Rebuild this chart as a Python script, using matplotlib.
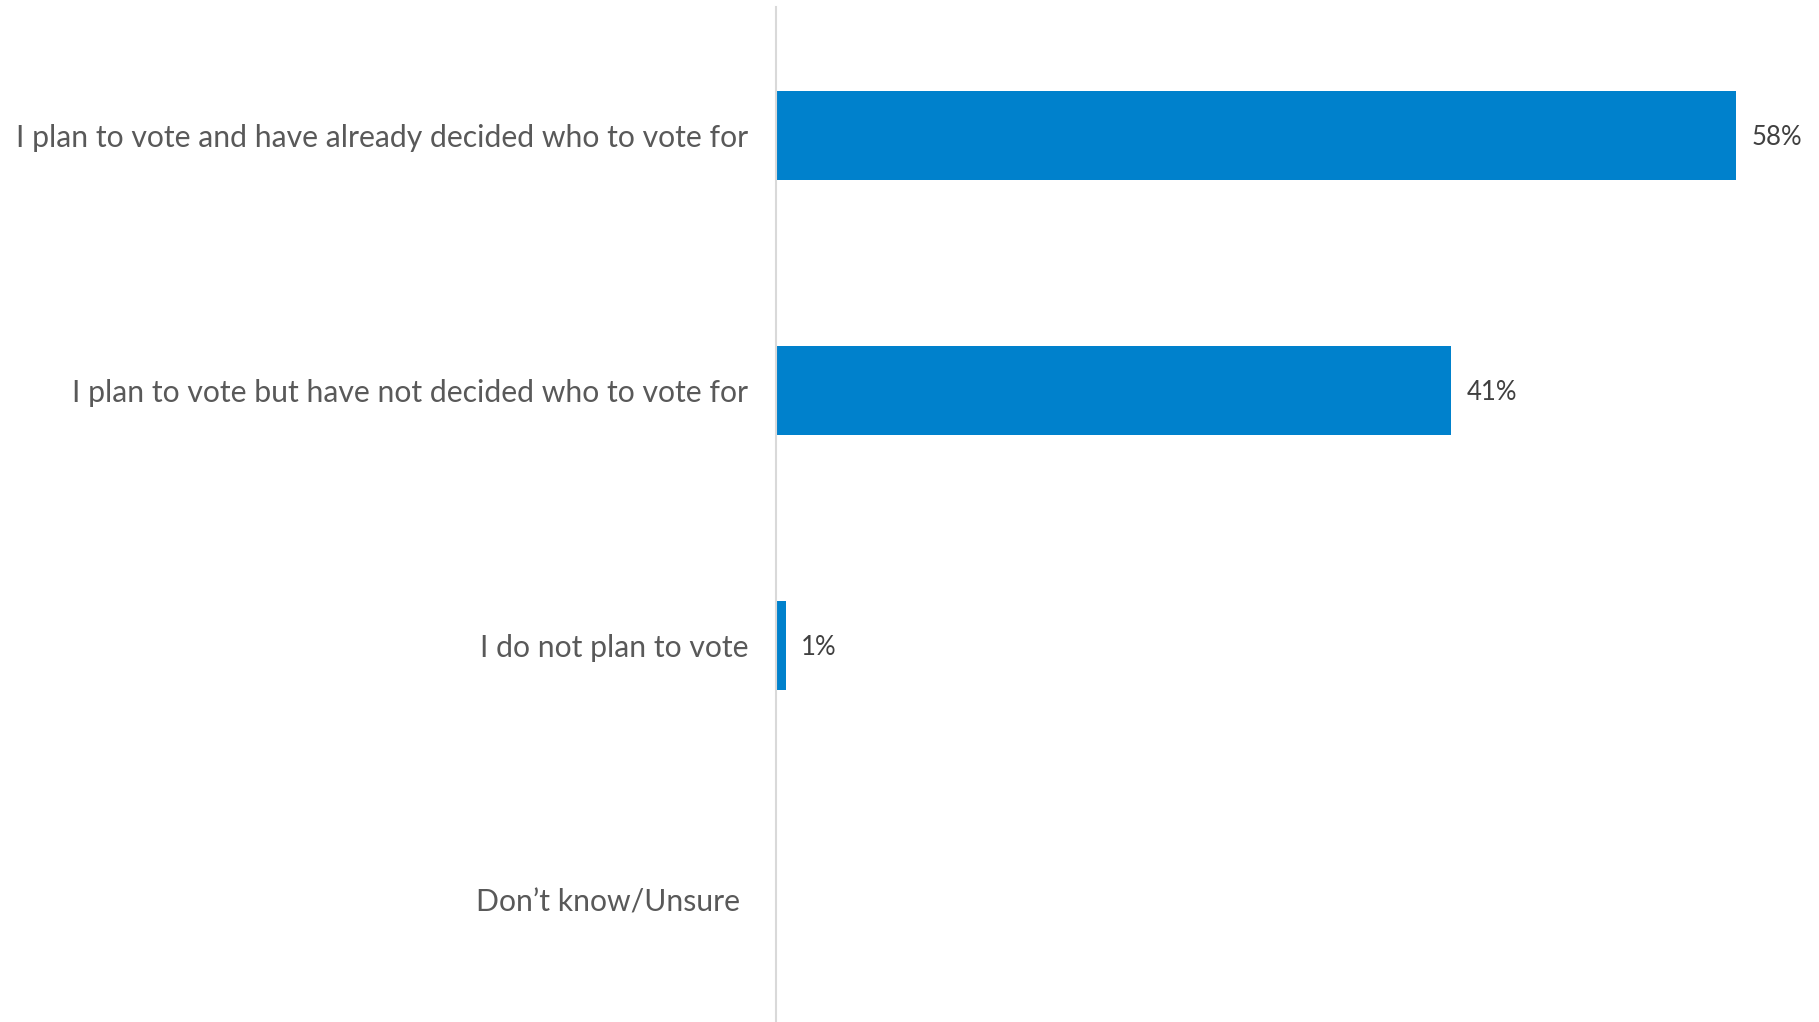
import matplotlib.pyplot as plt

# Data -------
categories = [
    "I plan to vote and have already decided who to vote for",
    "I plan to vote but have not decided who to vote for",
    "I do not plan to vote",
    "Don\u2019t know/Unsure ",
]
values = [58, 40.8, 0.6, 0]
value_labels = ["58%", "41%", "1%", ""]

plt.rcParams["font.family"] = ["Lato", "DejaVu Sans"]

fig = plt.figure(figsize=(18.19, 10.22), dpi=100)
ax = fig.add_axes([0.4266, 0.0, 0.5734, 0.993])

y = list(range(len(categories)))
ax.barh(y, values, height=0.35, color="#0081CC")

for yi, v, lab in zip(y, values, value_labels):
    ax.text(v + 0.9, yi, lab, va="center_baseline", ha="left", fontsize=18.5, color="#404040")

ax.set_yticks(y)
ax.set_yticklabels(categories, fontsize=21.7, color="#595959")
ax.tick_params(axis="y", length=0, pad=20)
ax.set_xticks([])
ax.set_xlim(0, 63)
ax.set_ylim(3.478, -0.502)

for side in ["top", "right", "bottom"]:
    ax.spines[side].set_visible(False)
ax.spines["left"].set_color("#d9d9d9")
ax.spines["left"].set_linewidth(1.5)

fig.savefig("out.png", dpi=100)
